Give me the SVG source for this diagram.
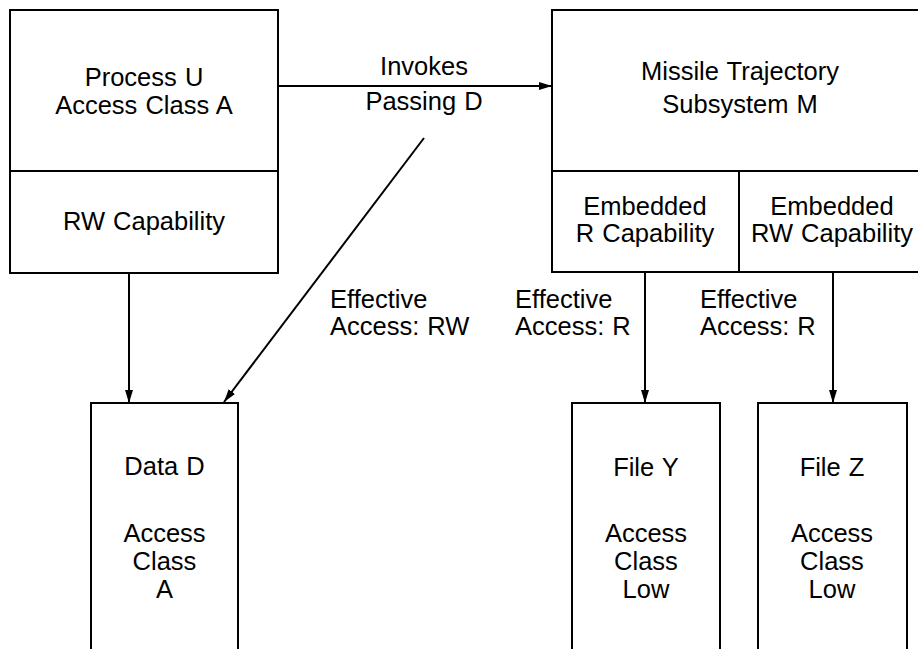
<svg xmlns="http://www.w3.org/2000/svg" width="918" height="649" viewBox="0 0 918 649">
  <style>
    .box { fill: none; stroke: #000; stroke-width: 2; }
    .edge { fill: none; stroke: #000; stroke-width: 2; }
    text { font-family: "Liberation Sans", Arial, sans-serif; font-size: 25.5px; fill: #000; word-spacing: 1px; }
    .c { text-anchor: middle; }
  </style>
  <defs>
    <marker id="arrow" markerUnits="userSpaceOnUse" markerWidth="14" markerHeight="10" refX="13" refY="5" orient="auto">
      <path d="M0,1 L13,5 L0,9 Z" fill="#000"/>
    </marker>
  </defs>

  <!-- Process U with its RW capability -->
  <g id="process-u">
    <rect class="box" x="10" y="10" width="268" height="263"/>
    <line class="box" x1="10" y1="171" x2="278" y2="171"/>
    <text class="c" x="144" y="86">Process U</text>
    <text class="c" x="144" y="114">Access Class A</text>
    <text class="c" x="144" y="230">RW Capability</text>
  </g>

  <!-- Missile Trajectory Subsystem M, running past the right edge -->
  <g id="subsystem-m">
    <path class="box" d="M930,10 H552 V272 H930"/>
    <line class="box" x1="552" y1="171" x2="930" y2="171"/>
    <line class="box" x1="739" y1="171" x2="739" y2="272"/>
    <text class="c" x="740" y="80">Missile Trajectory</text>
    <text class="c" x="740" y="113">Subsystem M</text>
    <text class="c" x="645" y="215">Embedded</text>
    <text class="c" x="645" y="242">R Capability</text>
    <text class="c" x="832" y="215">Embedded</text>
    <text class="c" x="832" y="242">RW Capability</text>
  </g>

  <!-- Data and file objects, open at the bottom -->
  <g id="data-d">
    <path class="box" d="M91,660 V403 H238 V660"/>
    <text class="c" x="164.5" y="475">Data D</text>
    <text class="c" x="164.5" y="542">Access</text>
    <text class="c" x="164.5" y="570">Class</text>
    <text class="c" x="164.5" y="598">A</text>
  </g>

  <g id="file-y">
    <path class="box" d="M572,660 V403 H720 V660"/>
    <text class="c" x="646" y="476">File Y</text>
    <text class="c" x="646" y="542">Access</text>
    <text class="c" x="646" y="570">Class</text>
    <text class="c" x="646" y="598">Low</text>
  </g>

  <g id="file-z">
    <path class="box" d="M758,660 V403 H907 V660"/>
    <text class="c" x="832" y="476">File Z</text>
    <text class="c" x="832" y="542">Access</text>
    <text class="c" x="832" y="570">Class</text>
    <text class="c" x="832" y="598">Low</text>
  </g>

  <!-- Connectors -->
  <g id="connectors">
    <line class="edge" x1="278" y1="86" x2="552" y2="86" marker-end="url(#arrow)"/>
    <line class="edge" x1="129" y1="273" x2="129" y2="403" marker-end="url(#arrow)"/>
    <line class="edge" x1="424" y1="138" x2="224" y2="402" marker-end="url(#arrow)"/>
    <line class="edge" x1="645" y1="272" x2="645" y2="403" marker-end="url(#arrow)"/>
    <line class="edge" x1="833" y1="272" x2="833" y2="403" marker-end="url(#arrow)"/>
  </g>

  <!-- Connector labels -->
  <g id="labels">
    <text class="c" x="424" y="75">Invokes</text>
    <text class="c" x="424" y="110">Passing D</text>
    <text x="330" y="308">Effective</text>
    <text x="330" y="335">Access: RW</text>
    <text x="515" y="308">Effective</text>
    <text x="515" y="335">Access: R</text>
    <text x="700" y="308">Effective</text>
    <text x="700" y="335">Access: R</text>
  </g>
</svg>
